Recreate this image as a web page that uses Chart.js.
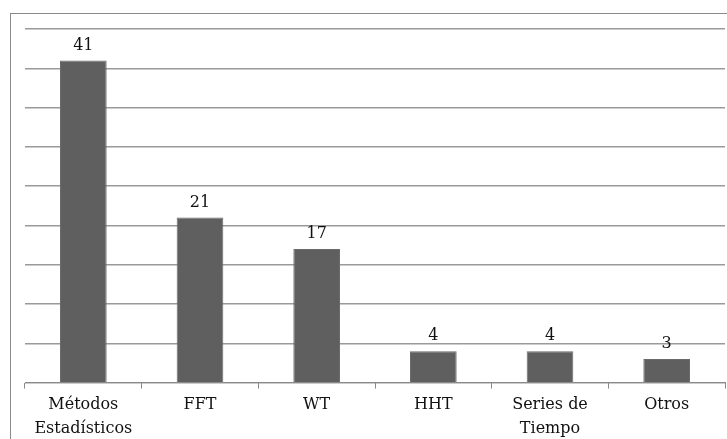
<!DOCTYPE html>
<html>
<head>
<meta charset="utf-8">
<script src="https://cdn.jsdelivr.net/npm/chart.js@4"></script>
<style>
  html, body { margin: 0; padding: 0; background: #fff; overflow: hidden; }
  #marco { position: absolute; left: 10px; top: 13px; width: 800px; height: 500px; border: 1px solid #8a8a8a; }
  #wrap { position: absolute; left: 0; top: 0; width: 727px; height: 445px; }
</style>
</head>
<body>
<div id="marco"></div>
<div id="wrap"><canvas id="tecnicasChart" width="727" height="445"></canvas></div>
<script>
// --- datos del gráfico ---
const categorias = [['Métodos', 'Estadísticos'], 'FFT', 'WT', 'HHT', ['Series de', 'Tiempo'], 'Otros'];
const valores = [41, 21, 17, 4, 4, 3];

document.addEventListener('DOMContentLoaded', () => {
    const fuente = "'DejaVu Serif', 'Liberation Serif', serif";

    // etiquetas de valor encima de cada barra
    const etiquetasValor = {
        id: 'etiquetasValor',
        afterDatasetsDraw(chart) {
            const ctx = chart.ctx;
            const meta = chart.getDatasetMeta(0);
            ctx.save();
            ctx.font = '16px ' + fuente;
            ctx.fillStyle = '#111';
            ctx.textAlign = 'center';
            ctx.textBaseline = 'bottom';
            meta.data.forEach((bar, i) => {
                ctx.fillText(chart.data.datasets[0].data[i], bar.x, bar.y - 7);
            });
            ctx.restore();
        }
    };

    new Chart(document.getElementById('tecnicasChart').getContext('2d'), {
        type: 'bar',
        data: {
            labels: categorias,
            datasets: [{
                data: valores,
                backgroundColor: '#5f5f5f',
                borderColor: '#6a6a6a',
                borderWidth: 1,
                barPercentage: 0.4,
                categoryPercentage: 1
            }]
        },
        options: {
            responsive: false,
            animation: false,
            layout: { padding: { left: 25, right: 2, top: 29, bottom: 0 } },
            plugins: {
                legend: { display: false },
                tooltip: { enabled: false }
            },
            scales: {
                y: {
                    min: 0,
                    max: 45,
                    ticks: { display: false, stepSize: 5 },
                    border: { display: false },
                    grid: { color: '#9a9a9a', lineWidth: 1.4, drawTicks: false }
                },
                x: {
                    border: { color: '#8a8a8a', width: 1 },
                    grid: { drawOnChartArea: false, color: '#8a8a8a', tickLength: 6, offset: true },
                    ticks: {
                        color: '#111',
                        padding: 5,
                        maxRotation: 0,
                        autoSkip: false,
                        font: { family: fuente, size: 16, lineHeight: 1.45 }
                    }
                }
            }
        },
        plugins: [etiquetasValor]
    });
});
</script>
</body>
</html>
